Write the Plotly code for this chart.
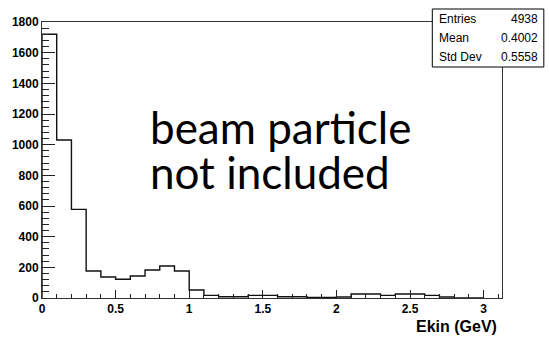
import plotly.graph_objects as go

# Histogram of kinetic energy, 0.1 GeV bins from 0 to 3.0 GeV
bin_width = 0.1
bin_left_edges = [round(i * bin_width, 1) for i in range(30)]
counts = [1720, 1030, 578, 176, 137, 122, 143, 183, 209, 176,
          52, 17, 8, 8, 17, 17, 8, 8, 4, 4,
          7, 26, 26, 17, 26, 26, 17, 7, 0, 0]

x_tick_vals = [0, 0.5, 1, 1.5, 2, 2.5, 3]
x_tick_text = ["0", "0.5", "1", "1.5", "2", "2.5", "3"]
y_tick_vals = [0, 200, 400, 600, 800, 1000, 1200, 1400, 1600, 1800]
y_tick_text = [str(v) for v in y_tick_vals]

stats_labels = ["Entries", "Mean", "Std Dev"]
stats_values = ["4938", "0.4002", "0.5558"]

x_title = "Ekin (GeV)"
note_lines = ["beam particle", "not included"]

W, H = 549, 347
L, R, T, B = 40, 47, 22, 49
PW, PH = W - L - R, H - T - B


def px(x):
    return (x - L) / PW


def py(y):
    return (H - B - y) / PH


# step outline, ROOT style
step_x = [0.0] + bin_left_edges + [bin_left_edges[-1] + bin_width]
step_y = [0] + counts + [0]

fig = go.Figure()
fig.add_trace(go.Scatter(
    x=step_x, y=step_y, mode="lines",
    line=dict(color="#111111", width=1.4, shape="hv"),
    hoverinfo="skip", showlegend=False,
))

tick_font = dict(family="Liberation Sans, Arial, sans-serif", size=12,
                 color="black")

fig.update_xaxes(
    range=[0, 3.125], showgrid=False, zeroline=False,
    showline=True, linecolor="#333333", linewidth=1, mirror=True,
    ticks="inside", ticklen=8, tickcolor="#222222", tickwidth=1,
    tickvals=x_tick_vals, ticktext=["<b>%s</b>" % t for t in x_tick_text],
    tickfont=tick_font,
    minor=dict(ticks="inside", ticklen=4, dtick=0.1, tick0=0,
               tickcolor="#222222", showgrid=False),
)
fig.update_yaxes(
    range=[0, 1800], showgrid=False, zeroline=False,
    showline=True, linecolor="#333333", linewidth=1, mirror=True,
    ticks="inside", ticklen=13, tickcolor="#222222", tickwidth=1,
    tickvals=y_tick_vals, ticktext=["<b>%s</b>" % t for t in y_tick_text],
    tickfont=tick_font,
    minor=dict(ticks="inside", ticklen=7, dtick=40, tick0=0,
               tickcolor="#222222", showgrid=False),
)

# statistics box
bx0, bx1, by0, by1 = 432, 544, 9, 67
fig.add_shape(type="rect", xref="paper", yref="paper",
              x0=px(bx0), x1=px(bx1), y0=py(by1), y1=py(by0),
              fillcolor="white", line=dict(color="black", width=1),
              layer="above")
stat_font = dict(family="Liberation Sans, Arial, sans-serif", size=12,
                 color="black")
row_h = (by1 - by0) / len(stats_labels)
for i, (lab, val) in enumerate(zip(stats_labels, stats_values)):
    yc = by0 + row_h * (i + 0.5)
    fig.add_annotation(x=px(bx0 + 5), y=py(yc), xref="paper", yref="paper",
                       text=lab, showarrow=False, xanchor="left",
                       yanchor="middle", font=stat_font)
    fig.add_annotation(x=px(bx1 - 4), y=py(yc), xref="paper", yref="paper",
                       text=val, showarrow=False, xanchor="right",
                       yanchor="middle", font=stat_font)

# axis title
fig.add_annotation(x=px(499), y=py(326), xref="paper", yref="paper",
                   text="<b>%s</b>" % x_title, showarrow=False,
                   xanchor="right", yanchor="middle",
                   font=dict(family="Liberation Sans, Arial, sans-serif",
                             size=16, color="black"))

# overlay note
note_font = dict(family="Lato, Carlito, sans-serif", size=44, color="black")
for i, line in enumerate(note_lines):
    fig.add_annotation(x=px(146), y=py(127 + 45 * i), xref="paper",
                       yref="paper", text=line, showarrow=False,
                       xanchor="left", yanchor="middle", font=note_font)

fig.update_layout(
    width=W, height=H,
    margin=dict(l=L, r=R, t=T, b=B, pad=0),
    plot_bgcolor="white", paper_bgcolor="white",
    showlegend=False,
)

fig.write_html("out.html")
